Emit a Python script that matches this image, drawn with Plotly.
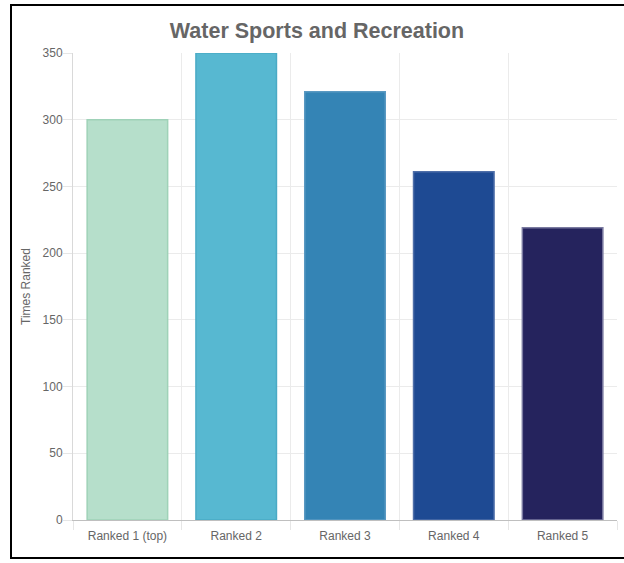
import plotly.graph_objects as go

categories = ["Ranked 1 (top)", "Ranked 2", "Ranked 3", "Ranked 4", "Ranked 5"]
times_ranked = [300, 350, 321, 261, 219]
bar_colors = ["#b6dfcb", "#57b8d1", "#3484b5", "#1e4a93", "#25235d"]
edge_colors = ["#9fd2b8", "#4aaac5", "#5a99c2", "#4f6fa9", "#7a7aa0"]

W, H = 624, 563
L, R, T, B = 73, 7, 53, 43
plot_w = W - L - R
plot_h = H - T - B


def px_to_paper_x(px):
    return (px - L) / plot_w


def px_to_paper_y(py):
    return (H - B - py) / plot_h


font_family = "Liberation Sans, Arial, Helvetica, sans-serif"

fig = go.Figure()
fig.add_trace(
    go.Bar(
        x=categories,
        y=times_ranked,
        marker=dict(color=bar_colors, line=dict(color=edge_colors, width=1.5)),
        showlegend=False,
    )
)

# black frame round the chart
fig.add_shape(
    type="rect",
    xref="paper",
    yref="paper",
    x0=px_to_paper_x(11),
    x1=px_to_paper_x(630),
    y0=px_to_paper_y(558),
    y1=px_to_paper_y(5),
    line=dict(color="black", width=2),
    layer="above",
)

fig.update_layout(
    width=W,
    height=H,
    margin=dict(l=L, r=R, t=T, b=B),
    paper_bgcolor="white",
    plot_bgcolor="white",
    bargap=0.26,
    font=dict(family=font_family, size=12, color="#666666"),
    title=dict(
        text="<b>Water Sports and Recreation</b>",
        x=317 / W,
        xanchor="center",
        y=1 - 30 / H,
        yanchor="middle",
        font=dict(size=21.5, color="#666666", family=font_family),
    ),
)
fig.update_xaxes(
    tickson="boundaries",
    ticks="outside",
    ticklen=9,
    tickcolor="#e6e6e6",
    showgrid=True,
    gridcolor="#ebebeb",
    showline=True,
    linecolor="#bfbfbf",
    linewidth=1,
    ticklabelstandoff=5,
    tickfont=dict(size=12, color="#666666"),
    fixedrange=True,
)
fig.update_yaxes(
    range=[0, 350],
    dtick=50,
    ticks="outside",
    ticklen=9,
    tickcolor="#e6e6e6",
    showgrid=True,
    gridcolor="#ebebeb",
    zeroline=False,
    showline=True,
    linecolor="#d9d9d9",
    linewidth=1,
    ticklabelstandoff=-2,
    tickfont=dict(size=12, color="#666666"),
    title=dict(text="Times Ranked", font=dict(size=12, color="#666666"), standoff=9),
)

# page body has a default 8px margin; drop it so the chart sits at the window corner
fig.write_html(
    "out.html",
    config={"displayModeBar": False},
    post_script="document.body.style.margin = '0';",
)
